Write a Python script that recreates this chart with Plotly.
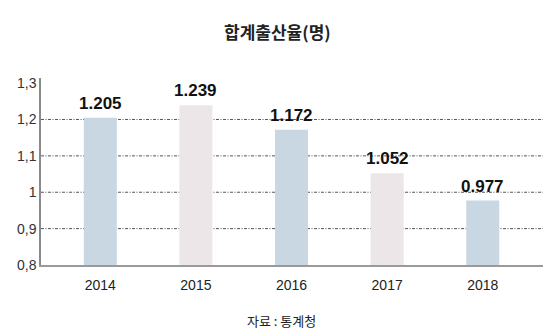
import plotly.graph_objects as go

# Total fertility rate by year (persons)
years = ["2014", "2015", "2016", "2017", "2018"]
rates = [1.205, 1.239, 1.172, 1.052, 0.977]
rate_labels = ["1.205", "1.239", "1.172", "1.052", "0.977"]
bar_colors = ["#c9d7e2", "#ede6e8", "#c9d7e2", "#ede6e8", "#c9d7e2"]

y_ticks = [0.8, 0.9, 1.0, 1.1, 1.2, 1.3]
y_tick_text = ["0,8", "0,9", "1", "1,1", "1,2", "1,3"]
grid_values = [0.9, 1.0, 1.1, 1.2]

fig = go.Figure()
fig.add_trace(go.Bar(
    x=years,
    y=[r - 0.8 for r in rates],
    base=0.8,
    marker=dict(color=bar_colors, line=dict(width=0)),
    width=0.345,
    hoverinfo="skip",
))

# dotted reference lines
for g in grid_values:
    fig.add_shape(type="line", xref="paper", yref="y", x0=0, x1=1, y0=g, y1=g,
                  line=dict(color="#555555", width=1, dash="3px,1.5px,1px,1.5px"),
                  layer="below")

# value labels above each bar (category index positions)
for i, (r, lab) in enumerate(zip(rates, rate_labels)):
    fig.add_annotation(x=i, y=r, xref="x", yref="y", text="<b>" + lab + "</b>",
                       showarrow=False, yanchor="bottom", yshift=3,
                       font=dict(family="Liberation Sans", size=17, color="#111111"))

fig.add_annotation(text="<b>합계출산율(명)</b>", xref="paper", yref="paper",
                   x=(277 - 41) / 502, y=1.0, yanchor="middle", yshift=47,
                   showarrow=False,
                   font=dict(family="Noto Sans CJK KR", size=17, color="#222222"))
fig.add_annotation(text="자료 : 통계청", xref="paper", yref="paper",
                   x=(281 - 41) / 502, y=0, yanchor="middle", yshift=-55,
                   showarrow=False,
                   font=dict(family="Noto Sans CJK KR", size=13, color="#222222"))

fig.update_layout(
    width=560, height=336,
    margin=dict(l=41, r=17, t=78, b=71),
    paper_bgcolor="white", plot_bgcolor="white",
    showlegend=False,
    xaxis=dict(
        type="category", range=[-0.62, 4.63],
        showgrid=False, showline=True, linecolor="#9a9a9a", linewidth=2,
        ticks="", ticklabelstandoff=6,
        tickfont=dict(family="Liberation Sans", size=14, color="#222222"),
        fixedrange=True,
    ),
    yaxis=dict(
        range=[0.8, 1.314], tickvals=y_ticks, ticktext=y_tick_text,
        showgrid=False, zeroline=False, showline=True, linecolor="#8a8a8a", linewidth=1.5,
        ticks="", tickfont=dict(family="Liberation Sans", size=14, color="#333333"),
        fixedrange=True,
    ),
)

fig.write_html("out.html")
